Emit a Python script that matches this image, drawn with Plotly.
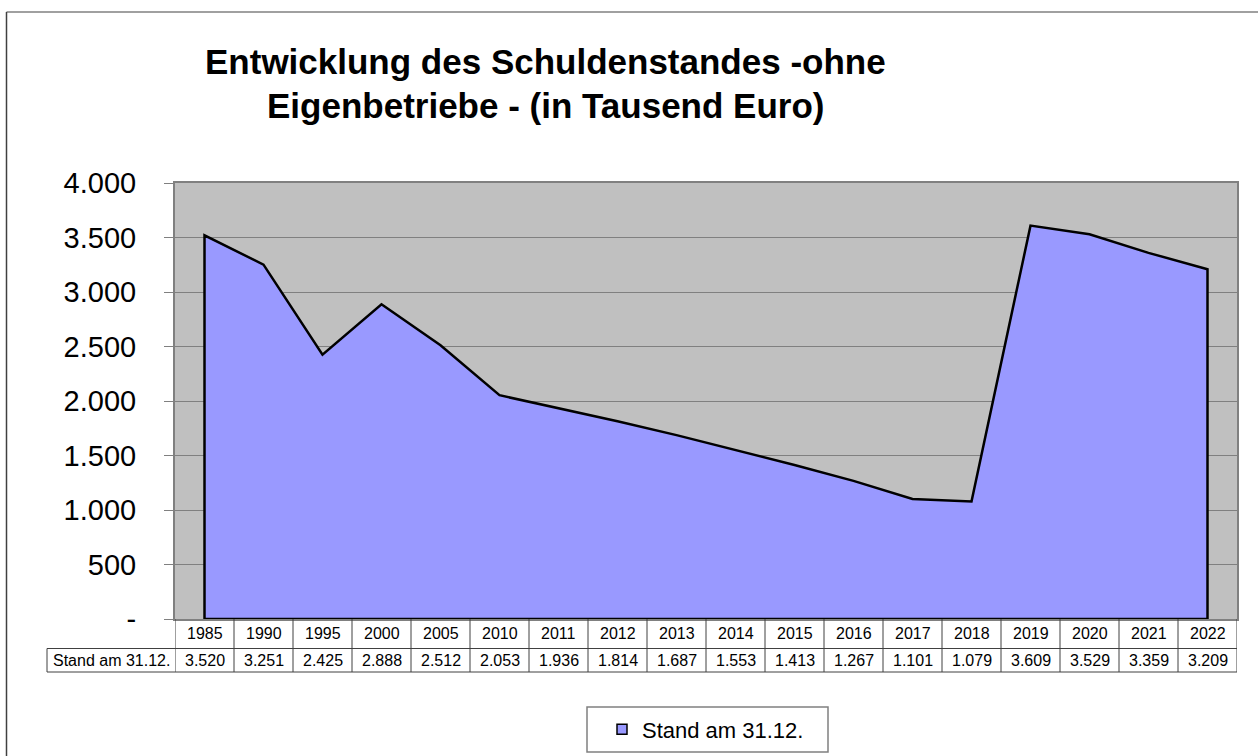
import plotly.graph_objects as go

years = ["1985", "1990", "1995", "2000", "2005", "2010", "2011", "2012", "2013",
         "2014", "2015", "2016", "2017", "2018", "2019", "2020", "2021", "2022"]
values = [3520, 3251, 2425, 2888, 2512, 2053, 1936, 1814, 1687,
          1553, 1413, 1267, 1101, 1079, 3609, 3529, 3359, 3209]
series_name = "Stand am 31.12."
title_lines = ["Entwicklung des Schuldenstandes -ohne", "Eigenbetriebe - (in Tausend Euro)"]
y_ticks = [0, 500, 1000, 1500, 2000, 2500, 3000, 3500, 4000]


def de_fmt(v):
    return "-" if v == 0 else f"{v:,}".replace(",", ".")


FONT = "Arial, Liberation Sans, sans-serif"
W, H = 1258, 756
L, R, T, B = 175, 21, 183, 137
PW, PH = W - L - R, H - T - B


def px_x(px):
    return (px - L) / PW


def px_y(py):
    return (H - B - py) / PH


xs = list(range(len(years)))
# closed outline of the area (Excel draws the border all round)
poly_x = [xs[0]] + xs + [xs[-1], xs[0]]
poly_y = [0] + values + [0, 0]

fig = go.Figure()
fig.add_trace(go.Scatter(
    x=poly_x, y=poly_y, mode="lines", fill="toself",
    fillcolor="#9999FF", line=dict(color="black", width=2.5),
    showlegend=False, hoverinfo="skip"))
fig.add_trace(go.Scatter(
    x=[None], y=[None], mode="markers", name=series_name,
    marker=dict(symbol="square", size=10, color="#9999FF",
                line=dict(color="black", width=1.5))))

shapes = []
annotations = []

# frame of the chart (top and left edges visible)
shapes.append(dict(type="line", xref="paper", yref="paper",
                   x0=px_x(6.5), x1=px_x(1270), y0=px_y(12), y1=px_y(12),
                   line=dict(color="#808080", width=1.5)))
shapes.append(dict(type="line", xref="paper", yref="paper",
                   x0=px_x(6.5), x1=px_x(6.5), y0=px_y(12), y1=px_y(770),
                   line=dict(color="#404040", width=1.5)))

# data table
tbl_left = px_x(47)
row_mid = px_y(648.5)
row_bot = px_y(672)
line_c = "#404040"
for i in range(len(years) + 1):
    shapes.append(dict(type="line", xref="x", yref="paper",
                       x0=i - 0.5, x1=i - 0.5, y0=0, y1=row_bot,
                       line=dict(color=line_c, width=1)))
shapes.append(dict(type="line", xref="paper", yref="paper",
                   x0=tbl_left, x1=tbl_left, y0=row_mid, y1=row_bot,
                   line=dict(color=line_c, width=1)))
for yy in (row_mid, row_bot):
    shapes.append(dict(type="line", xref="paper", yref="paper",
                       x0=tbl_left, x1=1, y0=yy, y1=yy,
                       line=dict(color=line_c, width=1)))

cell_font = dict(family=FONT, size=16, color="black")
for i, (yr, v) in enumerate(zip(years, values)):
    annotations.append(dict(x=i, y=px_y(633), xref="x", yref="paper",
                            text=yr, showarrow=False,
                            xanchor="center", yanchor="middle",
                            font=cell_font))
    annotations.append(dict(x=i, y=px_y(660.5), xref="x", yref="paper",
                            text=de_fmt(v), showarrow=False,
                            xanchor="center", yanchor="middle",
                            font=cell_font))
annotations.append(dict(x=px_x(111), y=px_y(660.5), xref="paper", yref="paper",
                        text=series_name, showarrow=False,
                        xanchor="center", yanchor="middle", font=cell_font))

# title (two lines)
for line_text, cy in zip(title_lines, (62, 105)):
    annotations.append(dict(x=px_x(545), y=px_y(cy), xref="paper", yref="paper",
                            text="<b>" + line_text + "</b>", showarrow=False,
                            xanchor="center", yanchor="middle",
                            font=dict(family=FONT, size=35, color="black")))

# legend box
shapes.append(dict(type="rect", xref="paper", yref="paper",
                   x0=px_x(587), x1=px_x(828), y0=px_y(707), y1=px_y(752),
                   line=dict(color="#808080", width=1.5), fillcolor="white",
                   layer="below"))

fig.update_layout(
    width=W, height=H,
    margin=dict(l=L, r=R, t=T, b=B, pad=0, autoexpand=False),
    paper_bgcolor="white", plot_bgcolor="#C0C0C0",
    font=dict(family=FONT, color="black"),
    showlegend=True,
    legend=dict(x=px_x(602), y=px_y(729.5), xanchor="left", yanchor="middle",
                xref="paper", yref="paper",
                bgcolor="rgba(0,0,0,0)", borderwidth=0,
                font=dict(family=FONT, size=22, color="black"),
                itemwidth=30),
    shapes=shapes, annotations=annotations,
    xaxis=dict(range=[-0.5, len(years) - 0.5], showticklabels=False,
               showgrid=False, zeroline=False, ticks="",
               showline=True, mirror=True, linecolor="#808080", linewidth=2,
               layer="below traces", fixedrange=True, automargin=False),
    yaxis=dict(range=[0, 4000], tickvals=y_ticks,
               ticktext=[de_fmt(v) for v in y_ticks],
               tickfont=dict(family=FONT, size=29, color="black"),
               ticks="outside", ticklen=9, tickcolor="#808080", tickwidth=1,
               ticklabelstandoff=22,
               showgrid=True, gridcolor="#808080", gridwidth=1,
               zeroline=False,
               showline=True, mirror=True, linecolor="#808080", linewidth=2,
               layer="below traces", fixedrange=True, automargin=False),
)

fig.write_html(
    "out.html",
    config={"displayModeBar": False},
    post_script="document.body.style.margin='0';document.body.style.overflow='hidden';",
)
